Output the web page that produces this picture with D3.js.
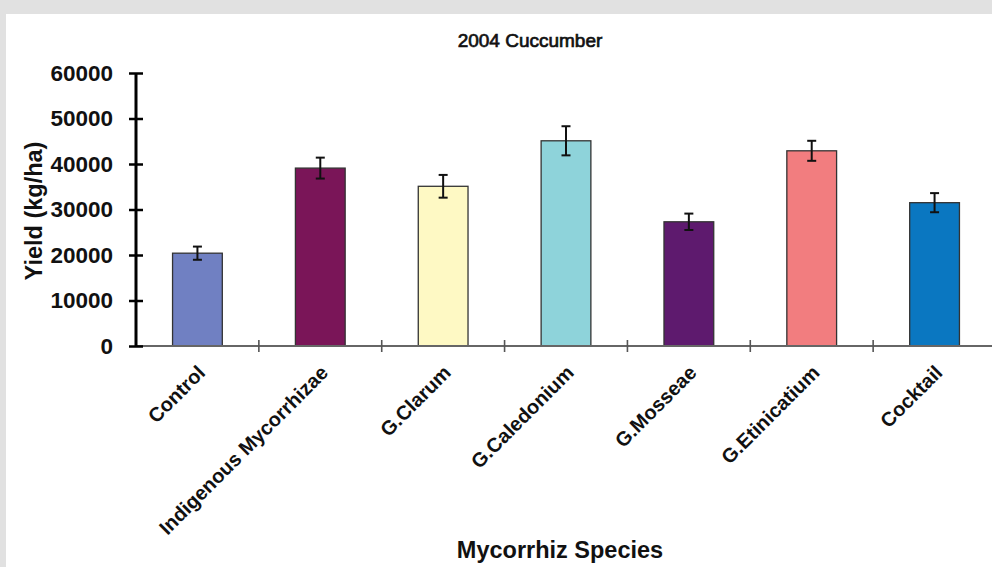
<!DOCTYPE html>
<html>
<head>
<meta charset="utf-8">
<script src="https://cdn.jsdelivr.net/npm/d3@7"></script>
<style>
  body { margin: 0; background: #e1e1e1; }
  svg { display: block; }
</style>
</head>
<body>
<svg width="992" height="567"></svg>
<script>
// chart data
const species = ["Control", "Indigenous Mycorrhizae", "G.Clarum", "G.Caledonium", "G.Mosseae", "G.Etinicatium", "Cocktail"];
const yieldValues = [20400, 39100, 35100, 45100, 27300, 42900, 31500];
const yieldErrors = [1450, 2300, 2500, 3200, 1800, 2200, 2100];
const barColors = ["#7080c2", "#7a1558", "#fef9c4", "#8ed3da", "#5e1a6e", "#f27d7f", "#0a77c1"];
const yTicks = [0, 10000, 20000, 30000, 40000, 50000, 60000];

const svg = d3.select("svg");
const font = "'Liberation Sans', Arial, sans-serif";

// white panel
svg.append("rect")
  .attr("x", 6).attr("y", 14)
  .attr("width", 986).attr("height", 553)
  .attr("fill", "#fff");

const x = d3.scaleBand().domain(species).range([136, 996]).padding(0);
const y = d3.scaleLinear().domain([0, 60000]).range([346, 73]);
const barW = x.bandwidth() * 0.405;

// title
svg.append("text")
  .attr("x", 530).attr("y", 47)
  .attr("text-anchor", "middle")
  .attr("font-family", font)
  .attr("font-size", "19px")
  .attr("fill", "#111")
  .attr("stroke", "#111").attr("stroke-width", 0.7)
  .text("2004 Cuccumber");

// bars
svg.selectAll("rect.bar")
  .data(species)
  .enter()
  .append("rect")
  .attr("class", "bar")
  .attr("x", (d) => x(d) + (x.bandwidth() - barW) / 2)
  .attr("y", (d, i) => y(yieldValues[i]))
  .attr("width", barW)
  .attr("height", (d, i) => y(0) - y(yieldValues[i]))
  .attr("fill", (d, i) => barColors[i])
  .attr("stroke", "#333")
  .attr("stroke-width", 1.3);

// error bars
const err = svg.selectAll("g.err")
  .data(species)
  .enter()
  .append("g")
  .attr("class", "err")
  .attr("stroke", "#111")
  .attr("stroke-width", 2);

const cx = (d) => x(d) + x.bandwidth() / 2;
err.append("line")
  .attr("x1", cx).attr("x2", cx)
  .attr("y1", (d, i) => y(yieldValues[i] + yieldErrors[i]))
  .attr("y2", (d, i) => y(yieldValues[i] - yieldErrors[i]));
err.append("line")
  .attr("x1", (d) => cx(d) - 4.5).attr("x2", (d) => cx(d) + 4.5)
  .attr("y1", (d, i) => y(yieldValues[i] + yieldErrors[i]))
  .attr("y2", (d, i) => y(yieldValues[i] + yieldErrors[i]));
err.append("line")
  .attr("x1", (d) => cx(d) - 4.5).attr("x2", (d) => cx(d) + 4.5)
  .attr("y1", (d, i) => y(yieldValues[i] - yieldErrors[i]))
  .attr("y2", (d, i) => y(yieldValues[i] - yieldErrors[i]));

// x axis (gray, ticks crossing at band boundaries)
const xAxis = svg.append("g");
xAxis.append("line")
  .attr("x1", 136).attr("x2", 992)
  .attr("y1", y(0)).attr("y2", y(0))
  .attr("stroke", "#666").attr("stroke-width", 2);
xAxis.selectAll("line.tk")
  .data(species.slice(1))
  .enter()
  .append("line")
  .attr("class", "tk")
  .attr("x1", (d) => x(d)).attr("x2", (d) => x(d))
  .attr("y1", y(0) - 6).attr("y2", y(0) + 6)
  .attr("stroke", "#555").attr("stroke-width", 1.6);

xAxis.selectAll("text")
  .data(species)
  .enter()
  .append("text")
  .attr("transform", (d) => `translate(${cx(d) + 9},${y(0) + 28}) rotate(-45)`)
  .attr("text-anchor", "end")
  .attr("font-family", font)
  .attr("font-weight", "bold")
  .attr("font-size", "20px")
  .attr("fill", "#111")
  .text((d) => d);

// y axis (black, ticks crossing the line)
const yAxis = svg.append("g").attr("transform", "translate(136,0)")
  .call(d3.axisLeft(y).tickValues(yTicks).tickSize(0).tickPadding(23).tickFormat(d3.format("d")));
yAxis.select(".domain").remove();
yAxis.append("line")
  .attr("x1", 0).attr("x2", 0)
  .attr("y1", y(60000)).attr("y2", y(0))
  .attr("stroke", "#000").attr("stroke-width", 3);
yAxis.selectAll(".tick").append("line")
  .attr("x1", -7).attr("x2", 7)
  .attr("stroke", "#000").attr("stroke-width", 2.5);
yAxis.selectAll(".tick text")
  .attr("font-family", font)
  .attr("font-weight", "bold")
  .attr("font-size", "22.5px")
  .attr("fill", "#111");

// axis titles
svg.append("text")
  .attr("transform", "translate(42,211) rotate(-90)")
  .attr("text-anchor", "middle")
  .attr("font-family", font)
  .attr("font-weight", "bold")
  .attr("font-size", "23.5px")
  .attr("fill", "#111")
  .text("Yield (kg/ha)");

svg.append("text")
  .attr("x", 560).attr("y", 558)
  .attr("text-anchor", "middle")
  .attr("font-family", font)
  .attr("font-weight", "bold")
  .attr("font-size", "23.5px")
  .attr("fill", "#111")
  .text("Mycorrhiz Species");
</script>
</body>
</html>
